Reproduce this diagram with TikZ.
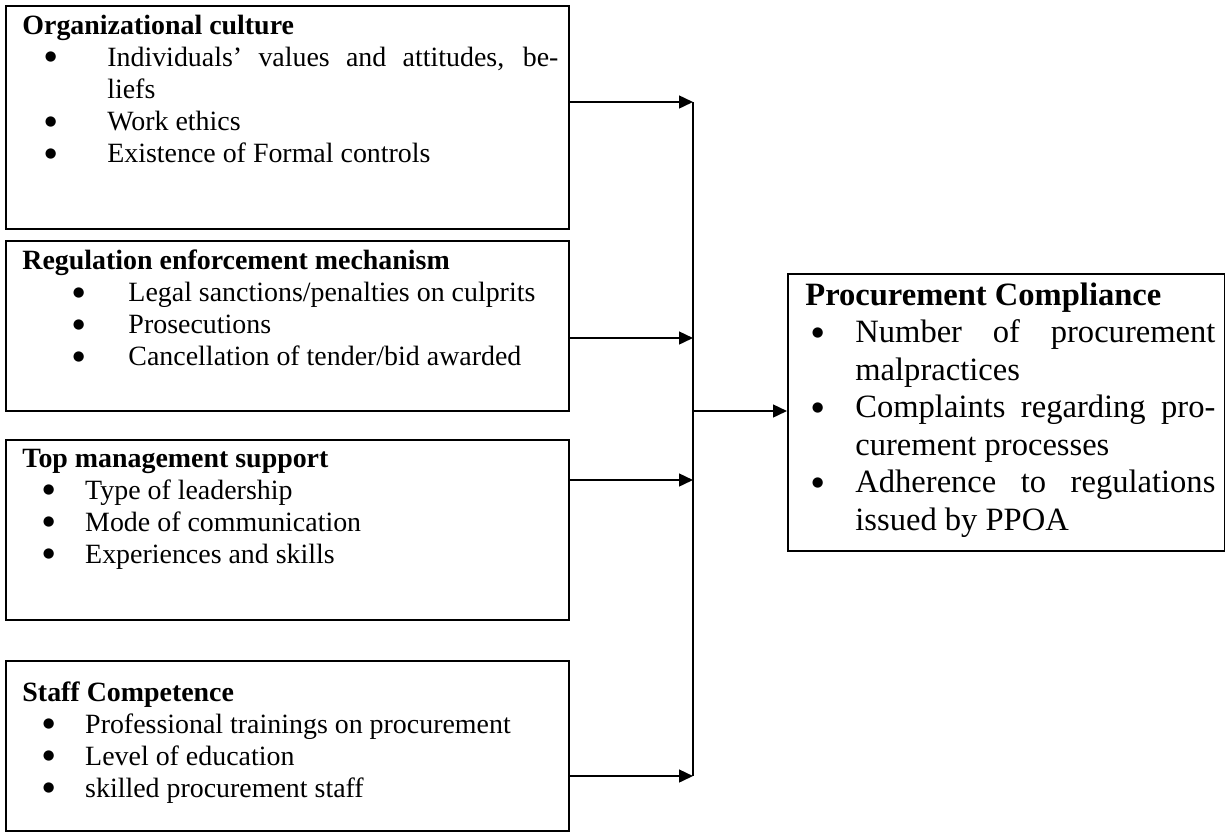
\documentclass[tikz,border=0pt]{standalone}
\usepackage{fontspec}
\setmainfont{Liberation Serif}
\newfontfamily\bulletfont{DejaVu Sans}
\usepackage{enumitem}
\usetikzlibrary{arrows.meta}
\setlist[itemize]{nosep, label=\raisebox{0.42ex}{\bulletfont\fontsize{5.8}{6}\selectfont ●}}
\setlength{\parindent}{0pt}

\begin{document}
\begin{tikzpicture}[x=0.43pt, y=-0.43pt,
  box/.style={draw, line width=0.85pt, anchor=north west, inner sep=0pt, minimum width=242.1pt},
  boxtext/.style={anchor=north west, inner xsep=7.3pt, inner ysep=4pt, text width=230.5pt,
    align=justify, font=\fontsize{12}{13.8}\selectfont},
  link/.style={line width=0.85pt, -{Triangle[length=6pt, width=5.5pt]}},
  wire/.style={line width=0.85pt}]
\useasboundingbox (0,0) rectangle (1225,831);

% independent variables
\node[box, minimum height=95.9pt] (org) at (5,5) {};
\node[boxtext] (orgtext) at (org.north west) {\textbf{Organizational culture}
  \begin{itemize}[leftmargin=36.5pt, labelsep=21.8pt]
  \item Individuals’ values and attitudes, be-\linebreak liefs
  \item Work ethics
  \item Existence of Formal controls
  \end{itemize}};

\node[box, minimum height=73.1pt] (reg) at (5,240) {};
\node[boxtext] (regtext) at (reg.north west) {\textbf{Regulation enforcement mechanism}
  \begin{itemize}[leftmargin=45.6pt, labelsep=18.8pt]
  \item Legal sanctions/penalties on culprits
  \item Prosecutions
  \item Cancellation of tender/bid awarded
  \end{itemize}};

\node[box, minimum height=77.4pt] (top) at (5,439) {};
\node[boxtext] (toptext) at (top.north west) {\textbf{Top management support}
  \begin{itemize}[leftmargin=27pt, labelsep=13.2pt]
  \item Type of leadership
  \item Mode of communication
  \item Experiences and skills
  \end{itemize}};

\node[box, minimum height=73.1pt] (staff) at (5,660) {};
\node[boxtext, inner ysep=9pt] (stafftext) at (staff.north west) {\textbf{Staff Competence}
  \begin{itemize}[leftmargin=27pt, labelsep=13.2pt]
  \item Professional trainings on procurement
  \item Level of education
  \item skilled procurement staff
  \end{itemize}};

% dependent variable
\node[box, minimum width=187.9pt, minimum height=119.1pt] (pc) at (787,273) {};
\node[boxtext, inner xsep=7.7pt, text width=176.3pt, font=\fontsize{14}{16.1}\selectfont]
  (pctext) at (pc.north west) {\textbf{Procurement Compliance}
  \begin{itemize}[leftmargin=21.5pt, labelsep=13.6pt]
  \item Number of procurement\linebreak malpractices
  \item Complaints regarding pro-\linebreak curement processes
  \item Adherence to regulations\linebreak issued by PPOA
  \end{itemize}};

% arrows
\coordinate (j1) at (693,102);
\coordinate (j2) at (693,338);
\coordinate (j3) at (693,480);
\coordinate (j4) at (693,776);
\coordinate (jm) at (693,411);
\draw[link] (org.east |- j1) -- (j1);
\draw[link] (reg.east |- j2) -- (j2);
\draw[link] (top.east |- j3) -- (j3);
\draw[link] (staff.east |- j4) -- (j4);
\draw[wire] (j1) -- (j4);
\draw[link] (jm) -- (pc.west |- jm);
\end{tikzpicture}
\end{document}
